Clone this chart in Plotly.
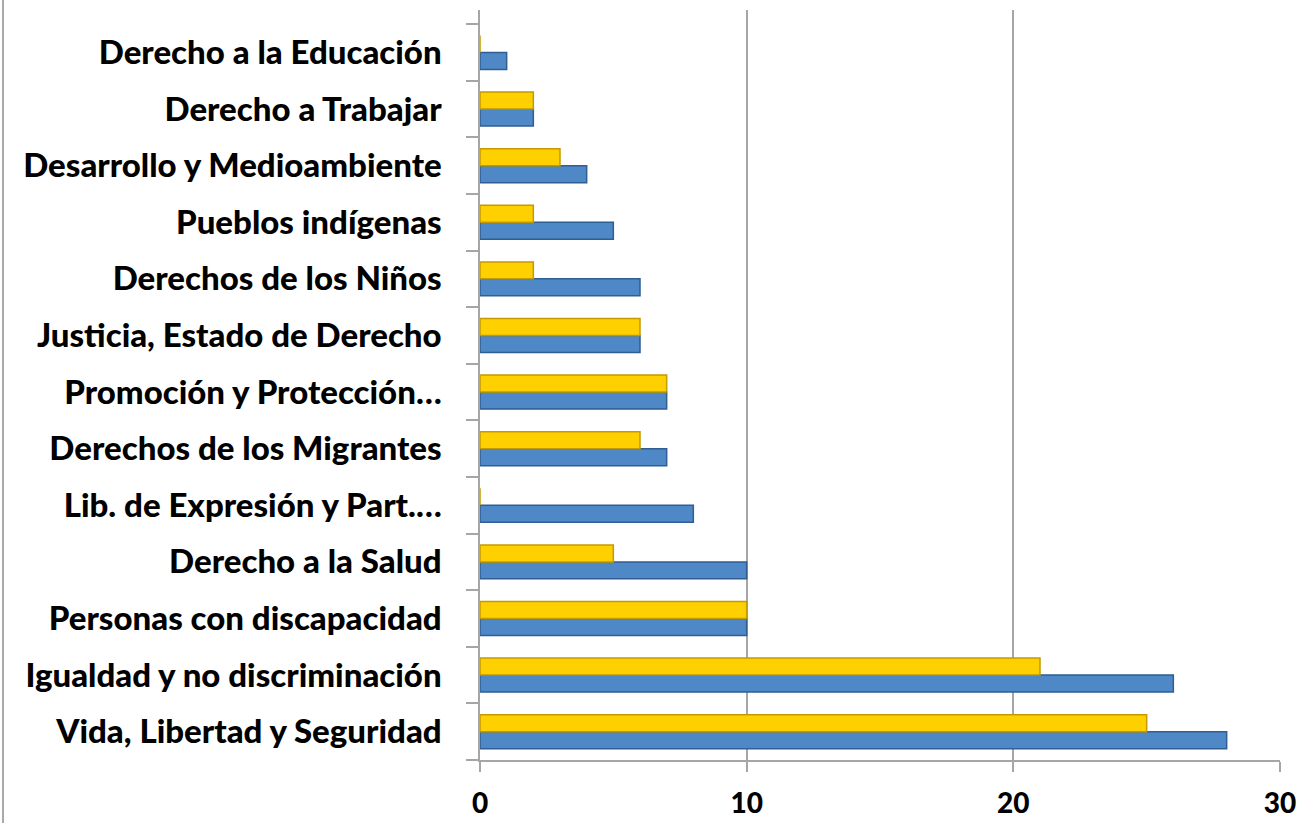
import plotly.graph_objects as go

categories = [
    "Vida, Libertad y Seguridad",
    "Igualdad y no discriminación",
    "Personas con discapacidad",
    "Derecho a la Salud",
    "Lib. de Expresión y Part.…",
    "Derechos de los Migrantes",
    "Promoción y Protección…",
    "Justicia, Estado de Derecho",
    "Derechos de los Niños",
    "Pueblos indígenas",
    "Desarrollo y Medioambiente",
    "Derecho a Trabajar",
    "Derecho a la Educación",
]
blue_values = [28, 26, 10, 10, 8, 7, 7, 6, 6, 5, 4, 2, 1]
yellow_values = [25, 21, 10, 5, 0, 6, 7, 6, 2, 2, 3, 2, 0]
x_ticks = [0, 10, 20, 30]

W, H = 1297, 823
L, R, T, B = 480, 17, 10, 63

fig = go.Figure()
fig.add_trace(go.Bar(
    y=categories, x=blue_values, orientation="h", name="Serie 1",
    marker=dict(color="#4F88C6", line=dict(color="#2F5E92", width=1.5)),
))
fig.add_trace(go.Bar(
    y=categories, x=yellow_values, orientation="h", name="Serie 2",
    marker=dict(color="#FFD000", line=dict(color="#C49A00", width=1.5)),
))

yfont = dict(family="Lato, Calibri, 'Open Sans', sans-serif", size=33, color="black", weight=900)
xfont = dict(family="Lato, Calibri, 'Open Sans', sans-serif", size=28, color="black", weight=900)

fig.update_layout(
    width=W, height=H,
    margin=dict(l=L, r=R, t=T, b=B),
    paper_bgcolor="white", plot_bgcolor="white",
    barmode="group", bargap=0.4, bargroupgap=0.0,
    showlegend=False,
    xaxis=dict(
        range=[0, 30], tickvals=x_ticks, ticktext=[str(v) for v in x_ticks],
        showgrid=True, gridcolor="#A6A6A6", gridwidth=1.5,
        zeroline=False, showline=True, linecolor="#A6A6A6", linewidth=1.5,
        ticks="outside", ticklen=10, tickcolor="#A6A6A6", tickwidth=1.5,
        ticklabelstandoff=8, tickfont=xfont, automargin=False,
    ),
    yaxis=dict(
        categoryorder="array", categoryarray=categories,
        range=[-0.5, len(categories) - 0.5 + 0.25],
        tickvals=categories, ticktext=categories,
        showline=True, linecolor="#A6A6A6", linewidth=1.5,
        ticks="outside", tickson="boundaries", ticklen=12, tickcolor="#A6A6A6", tickwidth=1.5,
        ticklabelstandoff=30, tickfont=yfont, showgrid=False, automargin=False,
    ),
    shapes=[
        dict(type="line", xref="paper", yref="paper",
             x0=-(L - 3) / (W - L - R), x1=-(L - 3) / (W - L - R),
             y0=-B / (H - T - B), y1=(H - T) / (H - T - B) + 1,
             line=dict(color="#8C8C8C", width=1.5)),
    ],
)

fig.write_html(
    "out.html",
    config={"displayModeBar": False},
    post_script="document.body.style.margin='0';document.body.style.overflow='hidden';",
)
